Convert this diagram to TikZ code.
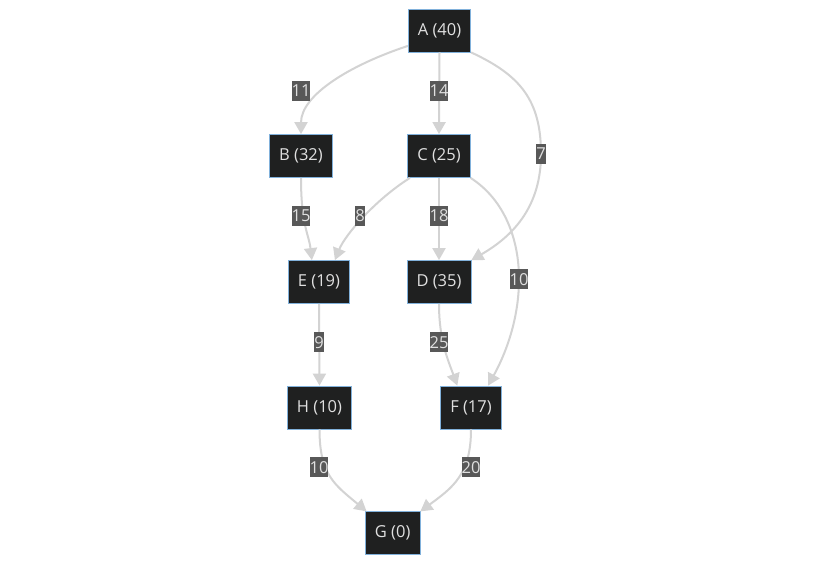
\documentclass[tikz,border=0pt]{standalone}
\usepackage{fontspec}
\setmainfont{Open Sans}
\usetikzlibrary{arrows.meta}
\definecolor{nfill}{HTML}{1F2020}
\definecolor{nbord}{HTML}{81B1DB}
\definecolor{ntext}{HTML}{E0E0E0}
\definecolor{edgec}{HTML}{D3D3D3}
\definecolor{lblbg}{HTML}{585858}
\begin{document}
\begin{tikzpicture}[x=1pt,y=-1pt,
  box/.style={draw=nbord, line width=0.8pt, fill=nfill, text=ntext,
    font=\fontsize{16.5}{18}\selectfont, minimum height=43pt,
    inner xsep=9.5pt, inner ysep=0pt},
  lbl/.style={fill=lblbg, text=ntext, font=\fontsize{16.5}{18}\selectfont,
    inner xsep=0pt, inner ysep=4pt, text height=12pt, text depth=0pt},
  edge/.style={draw=edgec, line width=2pt, -{Triangle[length=12pt,width=13pt]}}]
\useasboundingbox[fill=white] (0,0) rectangle (816,564);
% nodes
\node[box] (A) at (439.5,30.5) {A (40)};
\node[box] (B) at (301,156) {B (32)};
\node[box] (C) at (439,156) {C (25)};
\node[box] (E) at (319,282) {E (19)};
\node[box] (D) at (439,282) {D (35)};
\node[box] (H) at (319.5,407.5) {H (10)};
\node[box] (F) at (471,407.5) {F (17)};
\node[box] (G) at (392.7,533.3) {G (0)};
% edges
\draw[edge] (A.206) .. controls (350,65) and (301,95) .. (B.north);
\draw[edge] (A.south) -- (C.north);
\draw[edge] (A.south east) .. controls (520,75) and (541,100) .. (541,154)
  .. controls (541,205) and (515,235) .. (D.north east);
\draw[edge] (B.south) .. controls (301,225) and (309,235) .. (E.108);
\draw[edge] (C.217) .. controls (375,200) and (345,235) .. (E.54);
\draw[edge] (C.south) -- (D.north);
\draw[edge] (C.south east) .. controls (505,200) and (519,240) .. (519,279)
  .. controls (519,320) and (505,355) .. (F.52);
\draw[edge] (D.south) .. controls (439,340) and (448,360) .. (F.122);
\draw[edge] (E.south) -- (H.north);
\draw[edge] (H.south) .. controls (319.5,475) and (335,485) .. (G.140);
\draw[edge] (F.south) .. controls (471,475) and (452,488) .. (G.north east);
% labels
\node[lbl] (lAB) at (301,91) {11};
\node[lbl] (lAC) at (439,91) {14};
\node[lbl] (lAD) at (541,154) {7};
\node[lbl] (lBE) at (301,216) {15};
\node[lbl] (lCE) at (360,216) {8};
\node[lbl] (lCD) at (439,216) {18};
\node[lbl] (lCF) at (519,279) {10};
\node[lbl] (lEH) at (319,342) {9};
\node[lbl] (lDF) at (439,342) {25};
\node[lbl] (lHG) at (319,467) {10};
\node[lbl] (lFG) at (471,467) {20};
\end{tikzpicture}
\end{document}
